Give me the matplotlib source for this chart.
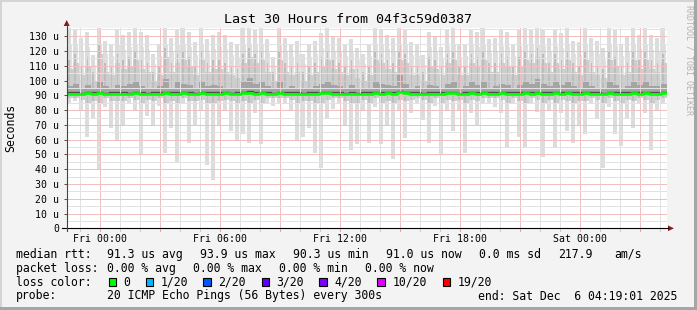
import numpy as np
import pandas as pd
import matplotlib
matplotlib.use("Agg")
import matplotlib.pyplot as plt
import matplotlib.dates as mdates
from matplotlib.patches import Rectangle, Polygon
from matplotlib.lines import Line2D

# ---------------- data ----------------
start = "2025-12-04 22:19:01"
end = "2025-12-06 04:19:01"
n_cols = 100  # 18-minute columns

smoke_hi = [136,135,129,133,117,136,127,125,135,131,
            133,136,133,131,118,125,136,129,135,136,
            133,126,136,128,131,133,131,126,124,136,
            136,135,136,128,116,136,129,124,127,118,
            124,127,132,136,130,129,125,128,122,118,
            125,136,135,131,129,136,135,126,125,117,
            133,130,123,134,136,124,125,135,133,136,
            128,129,134,133,125,134,136,135,136,134,
            129,134,132,136,127,126,136,129,127,122,
            136,134,125,130,136,131,136,131,129,136]

smoke_lo = [84,86,80,62,75,40,82,68,59,70,
            84,80,50,76,70,83,51,68,44,84,
            58,69,80,43,33,70,80,66,60,64,
            58,78,57,84,83,84,84,80,59,62,
            68,51,41,75,81,85,70,53,57,80,
            58,82,57,70,47,80,61,78,84,73,
            58,83,50,80,66,80,51,78,70,84,
            84,82,78,55,84,62,55,84,79,48,
            80,55,78,66,58,70,64,84,75,41,
            82,64,56,75,68,84,78,53,80,84]

mid_hi = [108,112,104,110,100,118,106,104,112,108,
          110,114,108,106,100,104,116,106,112,114,
          110,104,114,106,108,108,106,104,102,112,
          116,112,114,106,100,114,106,104,106,100,
          104,106,110,114,108,106,104,108,102,100,
          104,114,112,108,106,114,112,104,104,100,
          110,108,104,112,114,104,104,112,110,114,
          106,106,112,110,104,110,114,112,116,112,
          106,112,108,114,106,104,114,106,104,102,
          114,110,104,106,114,108,114,108,106,112]

mid_lo = [88,88,87,85,86,84,88,86,86,86,
          88,87,85,87,86,88,85,86,85,88,
          86,86,87,85,84,86,87,86,85,86,
          85,87,85,88,88,88,88,87,85,86,
          86,85,84,87,88,88,86,85,85,87,
          85,88,85,86,84,87,86,87,88,87,
          85,88,85,87,86,87,85,87,86,88,
          88,88,87,85,88,86,85,88,87,84,
          87,85,87,86,85,86,86,88,87,84,
          88,86,85,87,86,88,87,85,87,88]

core_hi = [96,98,95,97,94,100,96,95,97,96,
           98,99,96,95,94,96,101,95,99,98,
           97,95,99,96,97,96,95,94,95,99,
           102,98,100,96,94,99,95,96,95,94,
           95,96,98,100,97,96,95,97,94,94,
           95,99,98,97,96,104,98,95,96,94,
           97,96,95,98,100,95,96,99,97,99,
           95,96,98,97,95,97,99,98,101,98,
           96,99,97,100,96,95,99,96,95,94,
           100,97,95,96,99,97,100,96,96,98]

median = [91.2,91.0,90.8,91.3,91.0,91.5,90.9,91.1,91.2,91.0,
          90.9,91.4,91.0,90.8,91.1,91.0,91.6,91.2,91.0,91.3,
          91.1,90.9,91.5,91.0,91.2,91.0,91.3,90.9,91.0,91.4,
          91.8,91.2,91.5,91.0,90.8,91.6,91.1,91.0,91.2,90.9,
          91.0,91.1,91.3,91.5,91.0,91.2,90.9,91.0,90.8,91.0,
          91.0,91.4,91.2,91.3,91.1,92.0,91.3,91.0,91.1,90.9,
          91.2,91.0,91.1,91.4,91.3,90.9,91.0,91.4,91.2,91.3,
          91.0,91.1,91.3,91.2,91.0,91.2,91.4,91.1,91.6,91.2,
          91.0,91.3,91.1,91.5,91.0,91.0,91.4,91.1,91.0,90.9,
          91.4,91.2,91.0,91.1,91.3,91.2,91.5,91.1,91.0,91.3]

y_ticks = [0, 10, 20, 30, 40, 50, 60, 70, 80, 90, 100, 110, 120, 130]
y_labels = ["0", "10 u", "20 u", "30 u", "40 u", "50 u", "60 u", "70 u",
            "80 u", "90 u", "100 u", "110 u", "120 u", "130 u"]

title = "Last 30 Hours from 04f3c59d0387"
ylabel = "Seconds"
loss_labels = ["0", "1/20", "2/20", "3/20", "4/20", "10/20", "19/20"]
loss_colors = ["#00ff00", "#00b8ff", "#0059ff", "#5e00ff", "#7e00ff", "#dd00ff", "#ff0000"]

# ---------------- figure ----------------
W, H = 697, 310
MONO = "DejaVu Sans Mono"
fig = plt.figure(figsize=(W / 100, H / 100), dpi=100, facecolor="#f3f3f3")

def fx(x):
    return x / W

def fy(y):
    return 1 - y / H

ax_l, ax_r, ax_t, ax_b = 66.7, 666.7, 28.3, 228.3
ax = fig.add_axes([fx(ax_l), fy(ax_b), (ax_r - ax_l) / W, (ax_b - ax_t) / H])
ax.set_facecolor("white")
for s in ax.spines.values():
    s.set_visible(False)

edges = pd.date_range(start, periods=n_cols + 1, freq="18min")
t = mdates.date2num(edges.to_pydatetime())
left = t[:-1]
step = t[1] - t[0]

lo = np.asarray(smoke_lo, float)
hi = np.asarray(smoke_hi, float)
mlo = np.asarray(mid_lo, float)
mhi = np.asarray(mid_hi, float)
chi = np.asarray(core_hi, float)
med = np.asarray(median, float)

def ext(a):
    return np.append(a, a[-1])

# outer (lightest) smoke: thin streaks like individual samples
ax.bar(left + 0.08 * step, hi - lo, bottom=lo, width=0.58 * step, align="edge",
       color="#dcdcdc", lw=0, zorder=1)
ax.bar(left + 0.62 * step, (hi - med) * 0.75, bottom=med, width=0.3 * step, align="edge",
       color="#e2e2e2", lw=0, zorder=0.9)
# medium smoke
ax.fill_between(t, ext(mlo), ext(mhi), step="post", color="#cdcdcd", lw=0, zorder=1.1)
ax.bar(left + 0.3 * step, mhi + 6 - mlo, bottom=mlo, width=0.3 * step, align="edge",
       color="#bdbdbd", lw=0, zorder=1.15)
# dark core
ax.fill_between(t, ext(med), ext(chi), step="post", color="#a4a4a4", lw=0, zorder=1.2)
ax.step(t, ext(med) + 1.0, where="post", color="#505050", lw=1.0, zorder=1.3)

ax.set_xlim(t[0], t[-1])
ax.set_ylim(0, 135.4)

# grid (dotted in the reference; drawn as light 1px lines over the smoke)
MAJ, MIN = "#f0c0c0", "#e2e2e2"
hours = pd.date_range("2025-12-04 23:00", "2025-12-06 04:00", freq="h")
for h in hours:
    major = (h.hour % 3 == 0)
    ax.axvline(mdates.date2num(h.to_pydatetime()), color=MAJ if major else MIN,
               lw=0.72, zorder=2, antialiased=False)
for v in np.arange(5, 136, 5):
    major = (v % 10 == 0)
    ax.axhline(v, color=MAJ if major else MIN, lw=0.72, zorder=2, antialiased=False)

ax.step(t, ext(med), where="post", color="#00ff00", lw=1.9, zorder=3)

# ticks
ax.set_yticks(y_ticks)
ax.set_yticklabels(y_labels, family=MONO, fontsize=7.1)
ax.tick_params(axis="y", length=2.2, width=0.72, pad=3.2, color="#555555")
label_hours = pd.to_datetime(["2025-12-05 00:00", "2025-12-05 06:00", "2025-12-05 12:00",
                              "2025-12-05 18:00", "2025-12-06 00:00"])
ax.set_xticks(mdates.date2num(label_hours.to_pydatetime()))
ax.set_xticklabels([d.strftime("%a %H:%M") for d in label_hours], family=MONO, fontsize=7.1)
ax.tick_params(axis="x", length=0, pad=4.0)
for h in hours:
    major = (h.hour % 3 == 0)
    ax.plot([mdates.date2num(h.to_pydatetime())] * 2, [0, -1.6], color="#e8a0a0" if major else "#cccccc",
            lw=0.72, clip_on=False, zorder=2)

# axis lines + arrows
fig.add_artist(Line2D([fx(62), fx(668)], [fy(ax_b), fy(ax_b)], color="black", lw=0.8))
fig.add_artist(Line2D([fx(ax_l), fx(ax_l)], [fy(ax_b + 3), fy(24)], color="#444444", lw=0.8))
fig.add_artist(Polygon([(fx(668), fy(ax_b - 2.8)), (fx(668), fy(ax_b + 2.8)), (fx(674), fy(ax_b))],
                       closed=True, color="#8b1a1a", lw=0))
fig.add_artist(Polygon([(fx(ax_l - 3), fy(26)), (fx(ax_l + 3), fy(26)), (fx(ax_l), fy(20))],
                       closed=True, color="#8b1a1a", lw=0))

# titles
fig.text(fx(348), fy(19.5), title, family=MONO, fontsize=9.6, ha="center", va="center")
fig.text(fx(10.5), fy(128), ylabel, family=MONO, fontsize=8.3, ha="center", va="center", rotation=90)
fig.text(fx(688.5), fy(5), "RRDTOOL / TOBI OETIKER", family=MONO, fontsize=6.0, ha="center", va="top",
         rotation=-90, color="#b4b4b4")

# legend
LF = 8.3
rows = [
    (254.3, [(16, "median rtt:"), (107.3, "91.3 us avg"), (200, "93.9 us max"), (293.3, "90.3 us min"),
             (386, "91.0 us now"), (479.3, "0.0 ms sd"), (558.3, "217.9"), (614.3, "am/s")]),
    (268.3, [(16, "packet loss:"), (107.3, "0.00 % avg"), (193.3, "0.00 % max"), (279.3, "0.00 % min"),
             (365, "0.00 % now")]),
    (282.3, [(16, "loss color:")]),
    (296.0, [(16, "probe:"), (107.3, "20 ICMP Echo Pings (56 Bytes) every 300s"),
             (478.3, "end: Sat Dec  6 04:19:01 2025")]),
]
for y, segs in rows:
    for x, s in segs:
        fig.text(fx(x), fy(y), s, family=MONO, fontsize=LF, ha="left", va="center")

box_x = [108.7, 145.7, 203.3, 261.7, 319.3, 377.3, 442.7]
txt_x = [123.3, 161.0, 218.3, 276.7, 334.3, 392.7, 457.3]
for bx, tx, lab, col in zip(box_x, txt_x, loss_labels, loss_colors):
    fig.add_artist(Rectangle((fx(bx), fy(286.3)), 7.3 / W, 8 / H, facecolor=col, edgecolor="black", lw=0.8))
    fig.text(fx(tx), fy(282.3), lab, family=MONO, fontsize=LF, ha="left", va="center")

# frame
fig.add_artist(Rectangle((0, fy(2)), 1, 2 / H, facecolor="#d4d4d4", lw=0))
fig.add_artist(Rectangle((0, 0), 2 / W, 1, facecolor="#d4d4d4", lw=0))
fig.add_artist(Rectangle((fx(694), 0), 3 / W, 1, facecolor="#a6a6a6", lw=0))
fig.add_artist(Rectangle((0, 0), 1, 3 / H, facecolor="#a6a6a6", lw=0))

fig.savefig("out.png", dpi=100, facecolor=fig.get_facecolor())
